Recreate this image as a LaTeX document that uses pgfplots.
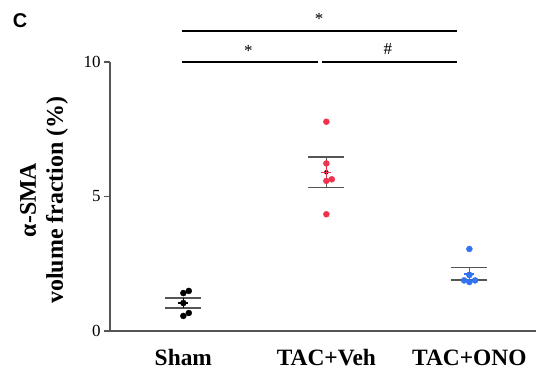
\documentclass[border=0pt]{standalone}
\usepackage{fontspec}
\setmainfont{Liberation Serif}
\newfontfamily\labelsans{Liberation Sans}
\usepackage{pgfplots}
\pgfplotsset{compat=1.18}
\definecolor{ptred}{HTML}{F0324E}
\definecolor{ptblue}{HTML}{3373F2}
\definecolor{axgray}{HTML}{555555}
\begin{document}
\begin{tikzpicture}[x=1bp,y=1bp]
\useasboundingbox (0,0) rectangle (536,373);
\begin{axis}[
  at={(110bp,42bp)}, anchor=south west,
  scale only axis, width=426bp, height=269bp,
  xmin=0.487, xmax=3.466, ymin=0, ymax=10,
  axis x line=bottom, axis y line=left,
  axis line style={axgray, line width=1.2bp, -},
  xtick={1,2,3}, xticklabels={Sham, TAC+Veh, TAC+ONO},
  xticklabel style={font=\bfseries\fontsize{23.5}{23.5}\selectfont, yshift=-9bp},
  major x tick style={draw=none},
  ytick={0,5,10},
  yticklabel style={font=\fontsize{17}{17}\selectfont},
  /pgf/number format/assume math mode=true,
  tick align=outside, major tick length=6bp,
  major y tick style={axgray, line width=1.2bp},
  ylabel={α-SMA\\volume fraction (\%)},
  ylabel style={font=\bfseries\fontsize{24}{27}\selectfont, align=center, at={(axis description cs:-0.155,0.487)}, anchor=center},
  clip=false,
]
% error bars (drawn first)
\addplot[only marks, mark=none, forget plot,
  error bars/.cd, y dir=both, y explicit, error mark=|,
  error mark options={mark size=18bp, line width=1.4bp, draw=axgray},
  error bar style={draw=axgray, line width=1.4bp}]
  coordinates {(1,1.035) +- (0,0.185) (2,5.90) +- (0,0.575) (3,2.125) +- (0,0.225)};
% individual points
\addplot[only marks, mark=*, mark size=3bp, black] coordinates {(1,1.41)(1.038,1.49)(1,1.04)(1.038,0.67)(1,0.56)};
\addplot[only marks, mark=*, mark size=3bp, color=ptred] coordinates {(2,7.78)(2,6.23)(2.038,5.64)(2,5.58)(2,4.34)};
\addplot[only marks, mark=*, mark size=3bp, color=ptblue] coordinates {(3,3.05)(2.963,1.88)(3,1.82)(3.040,1.88)(3,2.08)};
% means
\addplot[only marks, mark=+, mark size=5bp, black, mark options={line width=1.5bp}] coordinates {(1,1.035)};
\addplot[only marks, mark=+, mark size=5bp, ptred, mark options={line width=1.5bp}] coordinates {(2,5.90)};
\addplot[only marks, mark=+, mark size=5bp, ptblue, mark options={line width=1.5bp}] coordinates {(3,2.125)};
% significance annotations
\draw[line width=1.6bp] (axis cs:0.99,11.15) -- (axis cs:2.91,11.15);
\draw[line width=1.6bp] (axis cs:0.99,10) -- (axis cs:1.94,10);
\draw[line width=1.6bp] (axis cs:1.97,10) -- (axis cs:2.91,10);
\node[font=\fontsize{17}{17}\selectfont] at (axis cs:1.95,11.6) {*};
\node[font=\fontsize{17}{17}\selectfont] at (axis cs:1.455,10.42) {*};
\node[font=\fontsize{17}{17}\selectfont] at (axis cs:2.43,10.5) {\#};
\end{axis}
\node[font=\labelsans\bfseries\fontsize{20}{20}\selectfont] at (20,352) {C};
\end{tikzpicture}
\end{document}
